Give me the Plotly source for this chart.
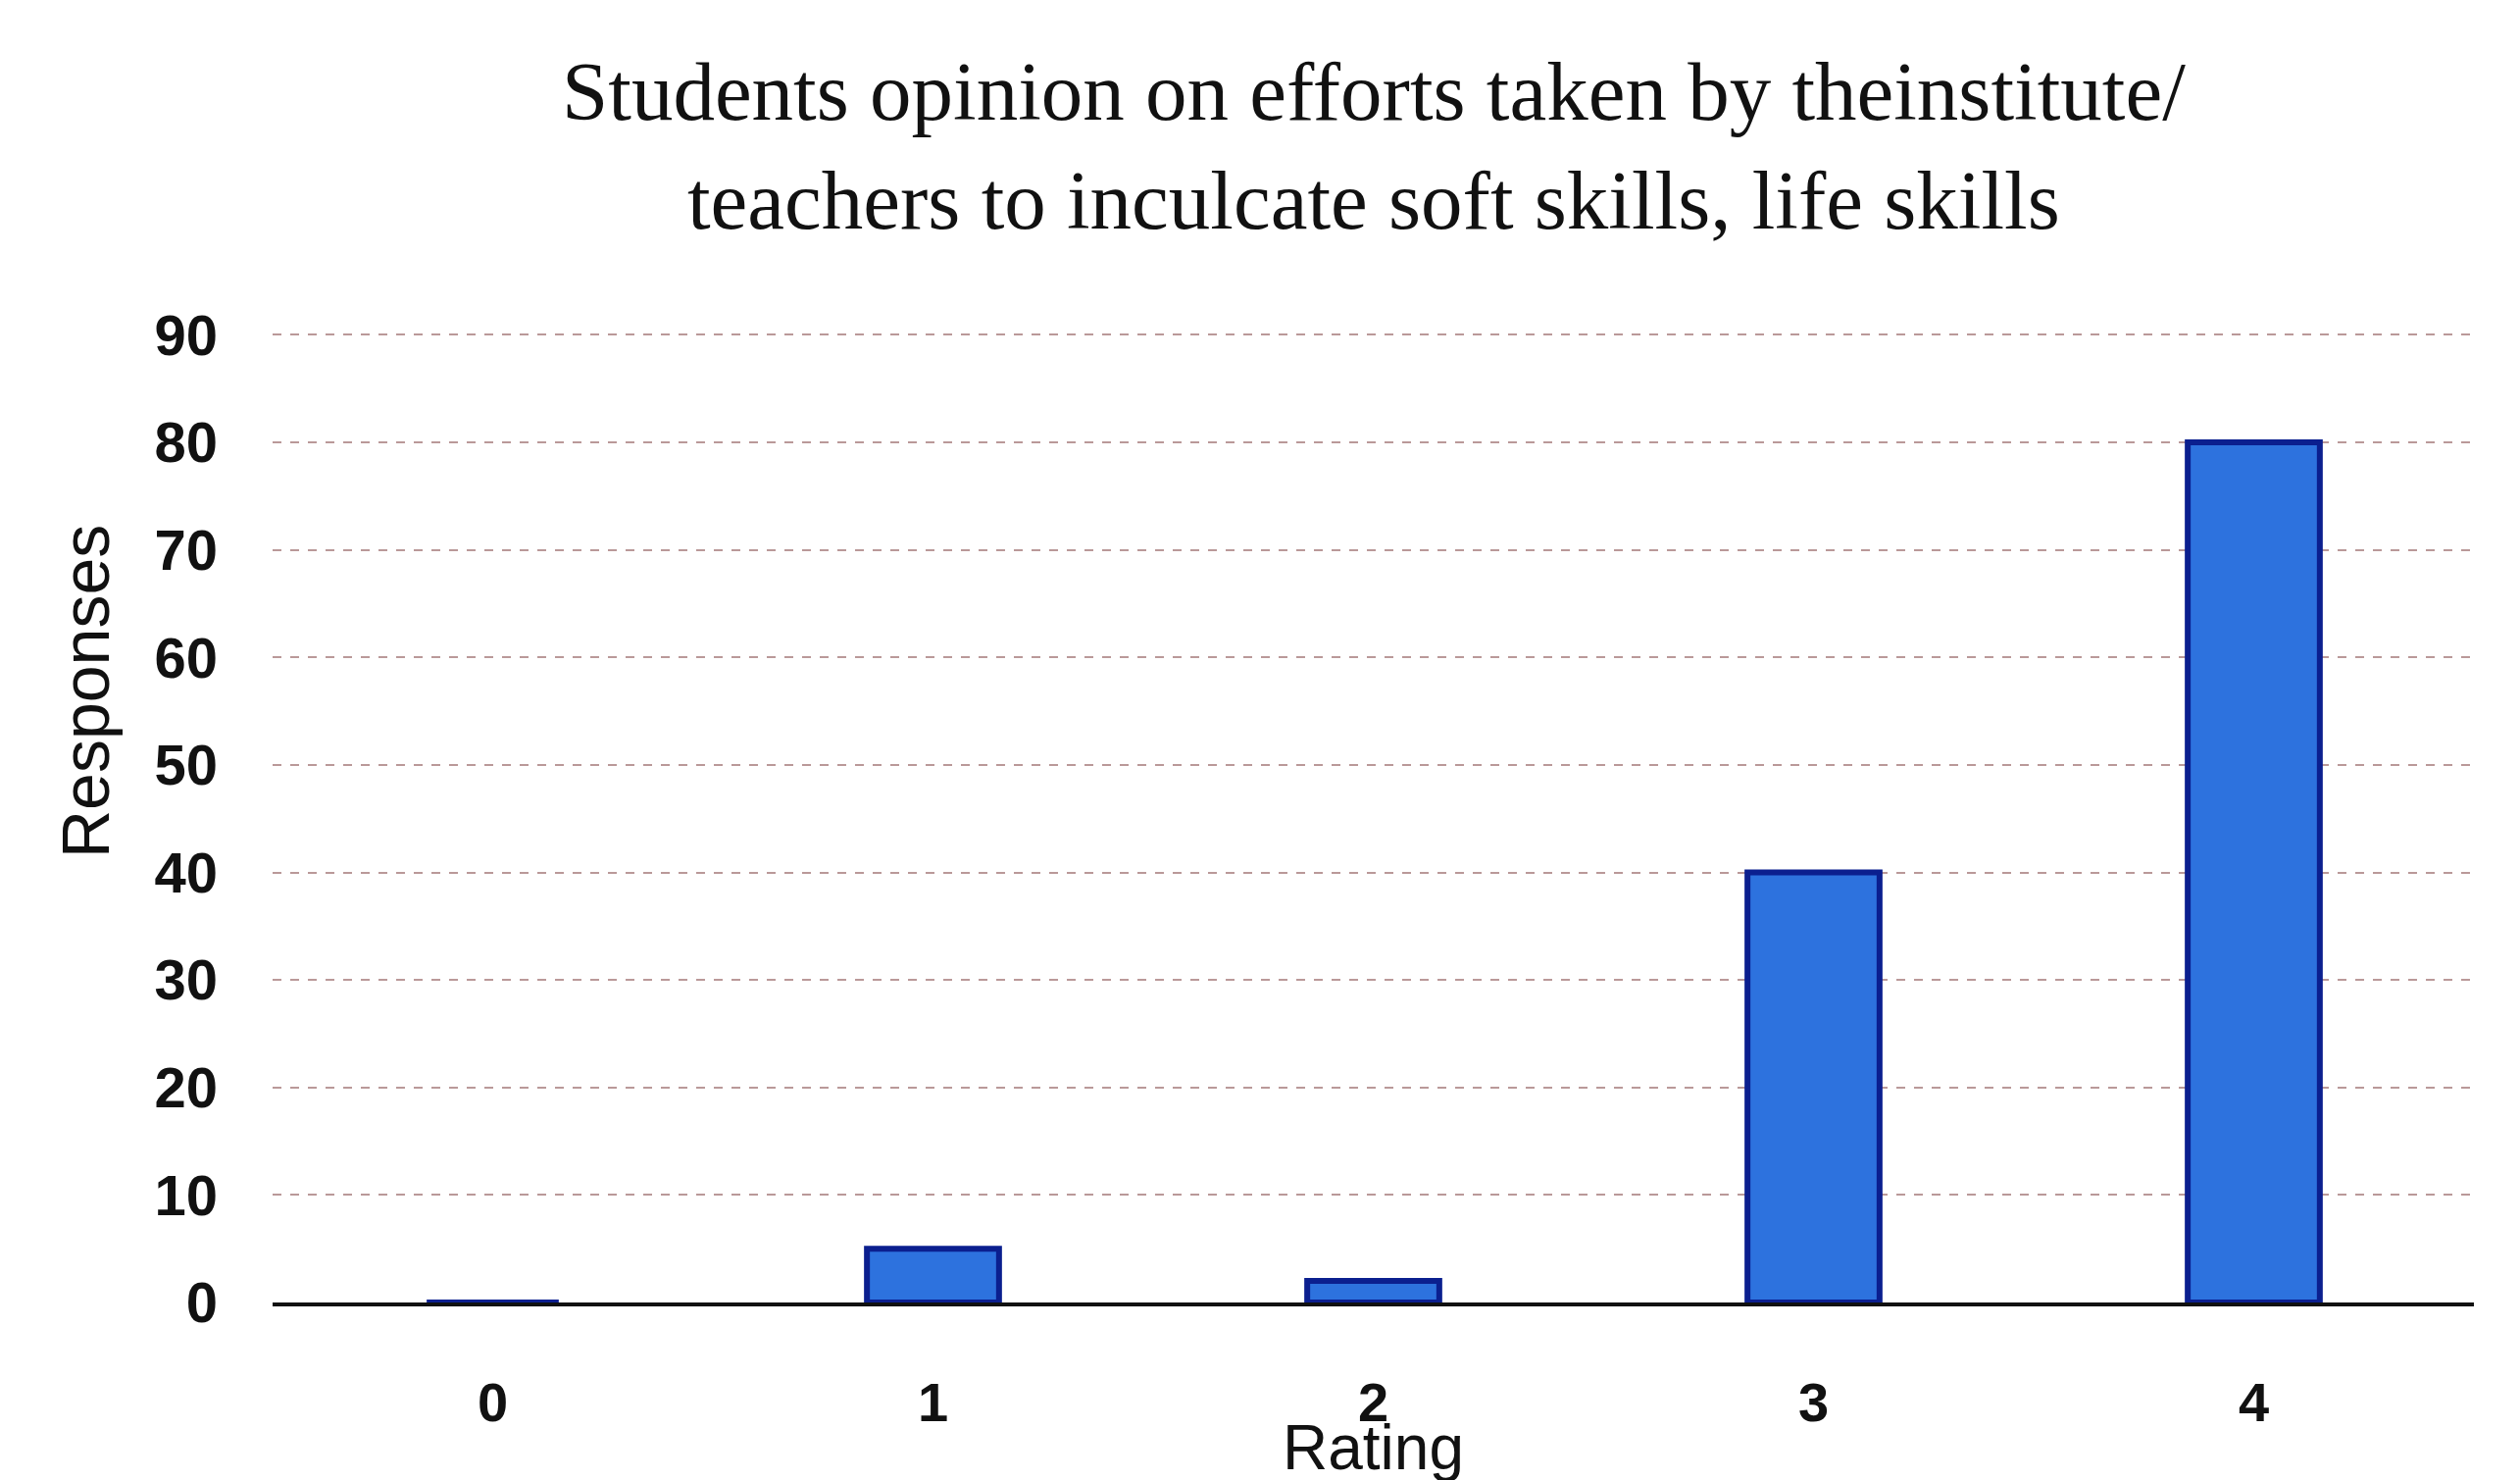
import plotly.graph_objects as go

ratings = ["0", "1", "2", "3", "4"]
responses = [0, 5, 2, 40, 80]
y_ticks = [0, 10, 20, 30, 40, 50, 60, 70, 80, 90]

title_lines = ["Students opinion on efforts taken by theinstitute/",
               "teachers to inculcate soft skills, life skills"]
x_title = "Rating"
y_title = "Responses"

fig = go.Figure()
fig.add_trace(go.Bar(
    x=ratings, y=responses,
    marker=dict(color="#2d72de", line=dict(color="#0b1f8f", width=6)),
    width=0.3,
))

# plot area: top 328px, bottom 1320px -> 992 px high
def py(px):
    return (1320 - px) / 992.0

fig.add_annotation(text="<br>".join(title_lines), xref="paper", yref="paper", x=0.5, y=py(140),
                   xanchor="center", yanchor="middle", showarrow=False,
                   font=dict(family="Liberation Serif", size=85, color="#111"))

fig.add_annotation(text=x_title, xref="paper", yref="paper", x=0.5, y=py(1468),
                   xanchor="center", yanchor="middle", showarrow=False,
                   font=dict(family="Liberation Sans", size=64, color="#111"))
fig.add_annotation(text=y_title, xref="paper", yref="paper", x=(79 - 270) / 2245.0, y=py(697),
                   xanchor="center", yanchor="middle", showarrow=False, textangle=-90,
                   font=dict(family="Liberation Sans", size=68, color="#111"))

fig.update_layout(
    width=2570, height=1509,
    paper_bgcolor="white", plot_bgcolor="white",
    margin=dict(l=270, r=55, t=328, b=189, autoexpand=False),
    showlegend=False,
    font=dict(family="Liberation Sans", color="#111"),
)
fig.update_xaxes(
    type="category", range=[-0.5, 4.5],
    showline=True, linecolor="#111", linewidth=4,
    showgrid=False, ticks="",
    tickfont=dict(size=56, family="Liberation Sans", weight="bold"),
    ticklabelstandoff=50,
)
fig.update_yaxes(
    range=[0, 90.5], tickvals=y_ticks, ticktext=[str(v) for v in y_ticks],
    showgrid=True, gridcolor="rgba(130,70,70,0.55)", griddash="dash", gridwidth=2,
    zeroline=False, showline=False, ticks="",
    tickfont=dict(size=58, family="Liberation Sans", weight="bold"),
    ticklabelstandoff=55,
)

fig.write_html("out.html")
